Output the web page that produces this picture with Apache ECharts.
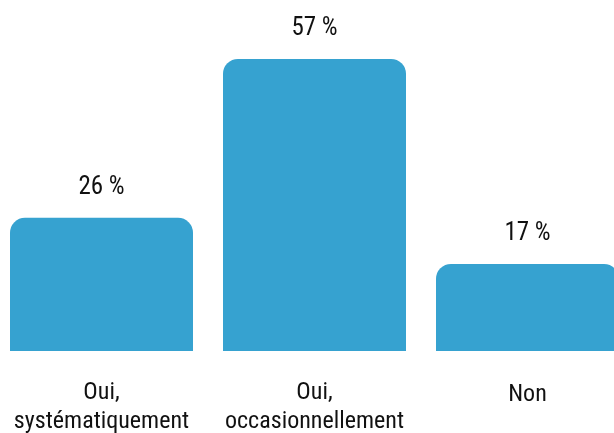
<!DOCTYPE html>
<html>
<head>
<meta charset="utf-8">
<script src="https://cdn.jsdelivr.net/npm/echarts@6/dist/echarts.min.js"></script>
<style>
html,body{margin:0;padding:0;background:#fff;overflow:hidden;}
#chart{width:644px;height:433px;margin-left:-5px;}
</style>
</head>
<body>
<div id="chart"></div>
<script>
const categories = ["Oui,\nsystématiquement", "Oui,\noccasionnellement", "Non"];
const values = [26, 57, 17];

const FONT = "'Roboto Condensed', 'Liberation Sans Narrow', 'DejaVu Sans Condensed', Roboto, sans-serif";
const chart = echarts.init(document.getElementById('chart'), null, {renderer: 'canvas'});
chart.setOption({
  animation: false,
  backgroundColor: '#ffffff',
  grid: {left: 0, right: 5, top: 43.6, bottom: 82, containLabel: false, outerBoundsMode: 'none'},
  xAxis: {
    type: 'category',
    data: categories,
    axisLine: {show: false},
    axisTick: {show: false},
    axisLabel: {
      margin: 27,
      fontFamily: FONT,
      fontSize: 24,
      lineHeight: 29,
      color: '#111',
      interval: 0,
      formatter: function (v) {
        return v.indexOf('\n') >= 0 ? v : '{s|' + v + '}';
      },
      rich: {s: {fontFamily: FONT, fontSize: 24, lineHeight: 29, color: '#111', padding: [5, 0, 0, 0]}}
    }
  },
  yAxis: {type: 'value', min: 0, max: 60, show: false, splitLine: {show: false}},
  series: [{
    type: 'bar',
    data: values,
    barWidth: 183,
    itemStyle: {color: '#36a2d0', borderRadius: [15, 15, 0, 0]},
    label: {
      show: true,
      position: 'top',
      distance: 18,
      fontFamily: FONT,
      fontSize: 25,
      color: '#111',
      formatter: function (p) { return p.value + ' %'; }
    }
  }]
});
</script>
</body>
</html>
